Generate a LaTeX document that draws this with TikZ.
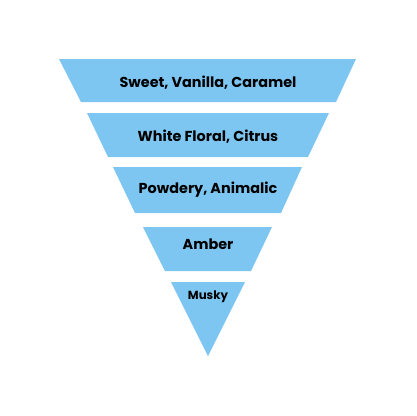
\documentclass[tikz,border=0pt]{standalone}
\usepackage{fontspec}
\setmainfont{Poppins}
\definecolor{layerblue}{HTML}{7DC6F1}
\tikzset{layer/.style={fill=layerblue},
  lbl/.style={font=\bfseries\fontsize{14.4}{17}\selectfont, text=black}}

\begin{document}
\begin{tikzpicture}[x=1pt,y=-1pt]
	\useasboundingbox (0,0) rectangle (416,416);
	
	\fill [layer] (59,59) -- (356,59) -- (336,102) -- (81,102) -- cycle;
	\node [lbl] (sweet) at (208,83) {Sweet, Vanilla, Caramel};
	
	\fill [layer] (87,113) -- (329,113) -- (308,157) -- (108,157) -- cycle;
	\node [lbl] (white) at (208,137) {White Floral, Citrus};
	
	\fill [layer] (113,167) -- (302,167) -- (281,213) -- (135,213) -- cycle;
	\node [lbl] (powdery) at (208,190) {Powdery, Animalic};
	
	\fill [layer] (143,227) -- (272,227) -- (251,271) -- (165,271) -- cycle;
	\node [lbl] (amber) at (208,244) {Amber};
	
	\fill [layer] (171,282) -- (245,282) -- (208,356) -- cycle;
	\node [lbl, font=\bfseries\fontsize{11.8}{14}\selectfont] (musky) at (208,297) {Musky};
\end{tikzpicture}
\end{document}
